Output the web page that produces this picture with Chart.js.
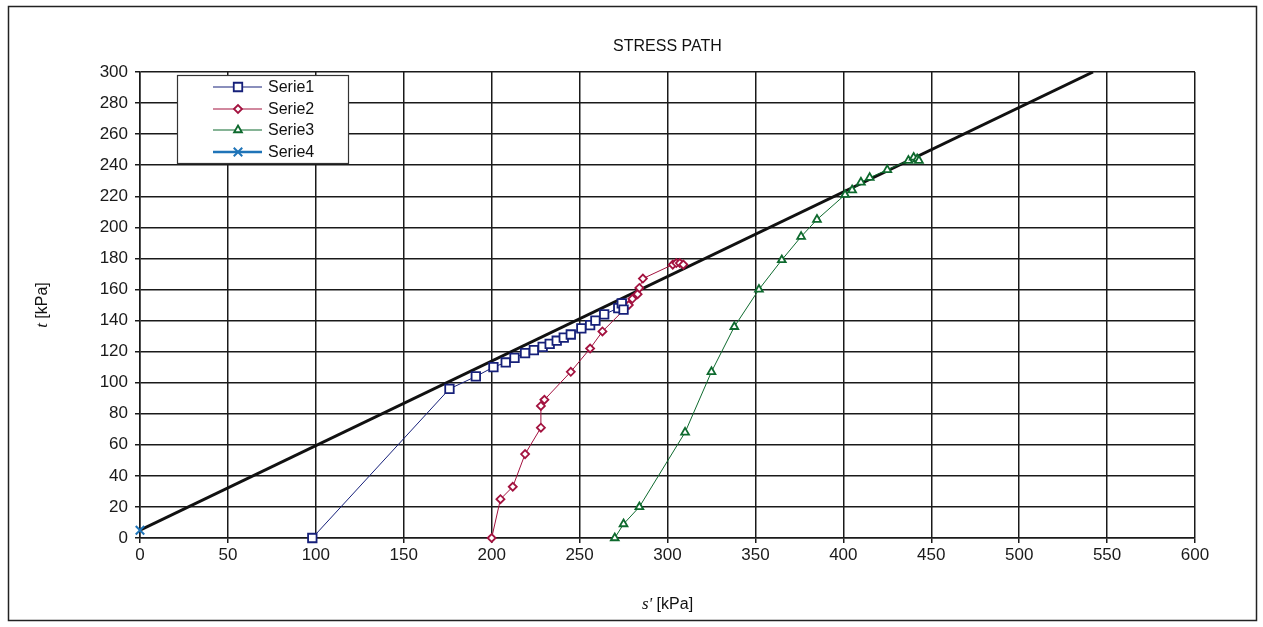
<!DOCTYPE html>
<html>
<head>
<meta charset="utf-8">
<script src="https://cdn.jsdelivr.net/npm/chart.js@4.4.1/dist/chart.umd.min.js"></script>
<style>
  html, body { margin: 0; padding: 0; background: #fff; }
  #wrap { width: 1263px; height: 627px; position: relative; }
</style>
</head>
<body>
<div id="wrap"><canvas id="chart" width="1263" height="627"></canvas></div>
<script>
// Stress path test data: s' [kPa] and t [kPa] per stage
const serie1S = [98, 176, 191, 201, 208, 213, 219, 224, 229, 233, 237, 241, 245, 251, 256, 259, 264, 272, 274, 275];
const serie1T = [0, 96, 104, 110, 113, 116, 119, 121, 123, 125, 127, 129, 131, 135, 137, 140, 144, 148, 151, 147];

const serie2S = [200, 205, 212, 219, 228, 228, 230, 245, 256, 263, 278, 280, 283, 284, 286, 303, 305, 307, 309];
const serie2T = [0, 25, 33, 54, 71, 85, 89, 107, 122, 133, 150, 154, 157, 161, 167, 176, 177, 177, 176];

const serie3S = [270, 275, 284, 310, 325, 338, 352, 365, 376, 385, 401, 405, 410, 415, 425, 437, 440, 442, 443];
const serie3T = [0, 9, 20, 68, 107, 136, 160, 179, 194, 205, 221, 224, 229, 232, 237, 243, 245, 244, 243];

const serie4S = [0];
const serie4T = [5];

// Failure envelope
const envelopeS = [0, 542];
const envelopeT = [5, 300];

const seriesNames = ['Serie1', 'Serie2', 'Serie3', 'Serie4'];
const xTicks = [0, 50, 100, 150, 200, 250, 300, 350, 400, 450, 500, 550, 600];
const yTicks = [0, 20, 40, 60, 80, 100, 120, 140, 160, 180, 200, 220, 240, 260, 280, 300];

const chartTitle = 'STRESS PATH';

function pts(xs, ys) { return xs.map((x, i) => ({ x: x, y: ys[i] })); }

const styles = [
  { color: '#16207a', pointStyle: 'rect', radius: 6, lineWidth: 1 },
  { color: '#a3123f', pointStyle: 'rectRot', radius: 4, lineWidth: 1 },
  { color: '#0e6a2e', pointStyle: 'triangle', radius: 4.5, lineWidth: 1 },
  { color: '#1f74b8', pointStyle: 'crossRot', radius: 6, lineWidth: 2.5 }
];

const seriesData = [pts(serie1S, serie1T), pts(serie2S, serie2T), pts(serie3S, serie3T), pts(serie4S, serie4T)];

const datasets = seriesData.map((d, i) => ({
  label: seriesNames[i],
  data: d,
  showLine: true,
  clip: false,
  borderColor: styles[i].color,
  borderWidth: styles[i].lineWidth,
  pointStyle: styles[i].pointStyle,
  pointRadius: styles[i].radius,
  pointBorderWidth: i === 3 ? 2 : 1.8,
  pointBackgroundColor: '#ffffff',
  pointBorderColor: styles[i].color,
  order: 1
}));

datasets.push({
  label: 'envelope',
  data: pts(envelopeS, envelopeT),
  showLine: true,
  borderColor: '#111111',
  borderWidth: 3,
  pointRadius: 0,
  order: 2
});

const PLOT = { left: 140, right: 1195, top: 72, bottom: 538 };

const decorations = {
  id: 'decorations',
  afterDraw(chart) {
    const ctx = chart.ctx;
    const area = chart.chartArea;
    ctx.save();

    // outer frame
    ctx.strokeStyle = '#222';
    ctx.lineWidth = 1.5;
    ctx.strokeRect(8.5, 6.5, 1248, 614);

    // title
    ctx.fillStyle = '#111';
    ctx.font = '16px "Liberation Sans", Arial, sans-serif';
    ctx.textAlign = 'center';
    ctx.textBaseline = 'middle';
    const cx = (area.left + area.right) / 2;
    ctx.fillText(chartTitle, cx, 47);

    // x axis title: s' [kPa]
    const italic = 'italic 17px "Liberation Serif", "Times New Roman", serif';
    const plain = '16px "Liberation Sans", Arial, sans-serif';
    ctx.textAlign = 'left';
    ctx.font = italic;
    const w1 = ctx.measureText("s'").width;
    ctx.font = plain;
    const w2 = ctx.measureText(' [kPa]').width;
    let x0 = cx - (w1 + w2) / 2;
    ctx.font = italic;
    ctx.fillText("s'", x0, 605);
    ctx.font = plain;
    ctx.fillText(' [kPa]', x0 + w1, 605);

    // y axis title: t [kPa]
    const cy = (area.top + area.bottom) / 2;
    ctx.translate(43, cy);
    ctx.rotate(-Math.PI / 2);
    ctx.font = italic;
    const v1 = ctx.measureText('t').width;
    ctx.font = plain;
    const v2 = ctx.measureText(' [kPa]').width;
    let y0 = -(v1 + v2) / 2;
    ctx.font = italic;
    ctx.fillText('t', y0, 0);
    ctx.font = plain;
    ctx.fillText(' [kPa]', y0 + v1, 0);
    ctx.setTransform(1, 0, 0, 1, 0, 0);

    // legend box
    const bx = 177, by = 75, bw = 171, bh = 88;
    ctx.fillStyle = '#fff';
    ctx.fillRect(bx, by, bw, bh);
    ctx.strokeStyle = '#333';
    ctx.lineWidth = 1.2;
    ctx.strokeRect(bx + 0.5, by + 0.5, bw, bh);
    const rows = [87, 109, 130, 152];
    seriesNames.forEach((name, i) => {
      const st = styles[i];
      const yy = rows[i];
      ctx.strokeStyle = st.color;
      ctx.lineWidth = i === 3 ? 2.5 : 1.2;
      ctx.beginPath();
      ctx.moveTo(213, yy);
      ctx.lineTo(262, yy);
      ctx.stroke();
      ctx.fillStyle = '#fff';
      ctx.lineWidth = i === 3 ? 2 : 1.8;
      Chart.helpers.drawPoint(ctx, { pointStyle: st.pointStyle, radius: st.radius, rotation: 0, borderWidth: ctx.lineWidth }, 238, yy);
      ctx.fillStyle = '#111';
      ctx.font = '16px "Liberation Sans", Arial, sans-serif';
      ctx.textAlign = 'left';
      ctx.textBaseline = 'middle';
      ctx.fillText(name, 268, yy + 1);
    });

    ctx.restore();
  }
};

new Chart(document.getElementById('chart'), {
  type: 'scatter',
  data: { datasets: datasets },
  options: {
    responsive: false,
    animation: false,
    devicePixelRatio: 1,
    layout: { padding: { left: 0, right: 1263 - PLOT.right, top: PLOT.top, bottom: 0 } },
    plugins: {
      legend: { display: false },
      title: { display: false },
      tooltip: { enabled: false }
    },
    scales: {
      x: {
        type: 'linear',
        min: 0, max: 600,
        afterBuildTicks(scale) { scale.ticks = xTicks.map(v => ({ value: v })); },
        afterFit(scale) { scale.height = 627 - PLOT.bottom; },
        grid: { color: '#1a1a1a', lineWidth: 1.5, tickLength: 5, tickColor: '#1a1a1a' },
        border: { color: '#1a1a1a', width: 1.5 },
        ticks: { color: '#1a1a1a', font: { size: 17, family: '"Liberation Sans", Arial, sans-serif' }, padding: 2, maxRotation: 0 }
      },
      y: {
        type: 'linear',
        min: 0, max: 300,
        afterBuildTicks(scale) { scale.ticks = yTicks.map(v => ({ value: v })); },
        afterFit(scale) { scale.width = PLOT.left; },
        grid: { color: '#1a1a1a', lineWidth: 1.5, tickLength: 5, tickColor: '#1a1a1a' },
        border: { color: '#1a1a1a', width: 1.5 },
        ticks: { color: '#1a1a1a', font: { size: 17, family: '"Liberation Sans", Arial, sans-serif' }, padding: 7 }
      }
    }
  },
  plugins: [decorations]
});
</script>
</body>
</html>
